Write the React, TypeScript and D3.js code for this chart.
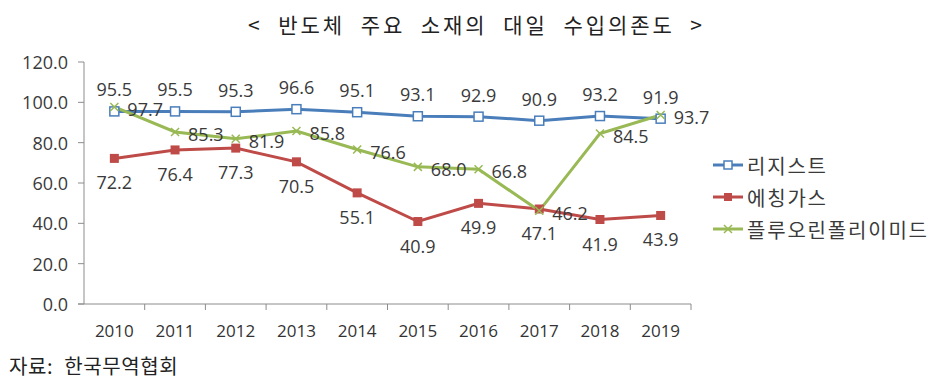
import React from "react";
import * as d3 from "d3";

const years = ["2010", "2011", "2012", "2013", "2014", "2015", "2016", "2017", "2018", "2019"];
const resist = [95.5, 95.5, 95.3, 96.6, 95.1, 93.1, 92.9, 90.9, 93.2, 91.9];
const etchingGas = [72.2, 76.4, 77.3, 70.5, 55.1, 40.9, 49.9, 47.1, 41.9, 43.9];
const polyimide = [97.7, 85.3, 81.9, 85.8, 76.6, 68.0, 66.8, 46.2, 84.5, 93.7];
const seriesNames = ["리지스트", "에칭가스", "플루오린폴리이미드"];
const yTicks = [0, 20, 40, 60, 80, 100, 120];
const title = "< 반도체 주요 소재의 대일 수입의존도 >";
const source = "자료: 한국무역협회";

const BLUE = "#4A7EBB";
const RED = "#BE4B48";
const GREEN = "#98B954";
const TXT = "#3a3a3a";
const AXIS = "#8c8c8c";
const NUM_FONT = "'Open Sans', 'Noto Sans', sans-serif";
const KR_FONT = "'Noto Sans CJK KR', sans-serif";

export default function App() {
  const W = 941, H = 383;
  const x = d3.scaleBand<string>().domain(years).range([84, 691]).padding(0);
  const y = d3.scaleLinear().domain([0, 120]).range([304, 62]);
  const cx = (yr: string) => (x(yr) as number) + x.bandwidth() / 2;
  const line = d3
    .line<number>()
    .x((_, i) => cx(years[i]))
    .y((v) => y(v));

  const sq = 9;
  const xMark = (px: number, py: number, k: string) => (
    <path
      key={k}
      d={`M${px - 4},${py - 4}L${px + 4},${py + 4}M${px - 4},${py + 4}L${px + 4},${py - 4}`}
      stroke={GREEN}
      strokeWidth={1.5}
    />
  );

  return (
    <svg width={W} height={H} style={{ position: "absolute", left: 0, top: 0, background: "#fff" }}>
      <rect width={W} height={H} fill="#fff" />
      <text
        x={248}
        y={24}
        textLength={454}
        lengthAdjust="spacing"
        dominantBaseline="central"
        fontFamily={KR_FONT}
        fontSize={21}
        style={{ wordSpacing: "8px", whiteSpace: "pre" }}
        fill="#222"
      >
        {title}
      </text>

      {/* y axis */}
      <line x1={84} x2={84} y1={y(120)} y2={y(0)} stroke={AXIS} strokeWidth={1} />
      {yTicks.map((t) => (
        <g key={t}>
          <line x1={78} x2={84} y1={y(t)} y2={y(t)} stroke={AXIS} />
          <text
            x={68}
            y={y(t)}
            textAnchor="end"
            dominantBaseline="central"
            fontFamily={NUM_FONT}
            fontSize={18}
            fill={TXT}
          >
            {t.toFixed(1)}
          </text>
        </g>
      ))}

      {/* x axis */}
      <line x1={78} x2={691} y1={y(0)} y2={y(0)} stroke={AXIS} />
      {years.map((yr) => (
        <line
          key={"t" + yr}
          x1={(x(yr) as number) + x.bandwidth()}
          x2={(x(yr) as number) + x.bandwidth()}
          y1={y(0)}
          y2={y(0) + 6}
          stroke={AXIS}
        />
      ))}
      {years.map((yr) => (
        <text
          key={"l" + yr}
          x={cx(yr)}
          y={330}
          textAnchor="middle"
          dominantBaseline="central"
          fontFamily={NUM_FONT}
          fontSize={17}
          fill="#333"
        >
          {yr}
        </text>
      ))}

      {/* lines */}
      <path d={line(resist) || ""} fill="none" stroke={BLUE} strokeWidth={3} />
      <path d={line(etchingGas) || ""} fill="none" stroke={RED} strokeWidth={3} />
      <path d={line(polyimide) || ""} fill="none" stroke={GREEN} strokeWidth={3} />

      {/* markers */}
      {resist.map((v, i) => (
        <rect
          key={"bm" + i}
          x={cx(years[i]) - sq / 2}
          y={y(v) - sq / 2}
          width={sq}
          height={sq}
          fill="#fff"
          stroke={BLUE}
          strokeWidth={1.5}
        />
      ))}
      {etchingGas.map((v, i) => (
        <rect
          key={"rm" + i}
          x={cx(years[i]) - sq / 2}
          y={y(v) - sq / 2}
          width={sq}
          height={sq}
          fill={RED}
        />
      ))}
      {polyimide.map((v, i) => xMark(cx(years[i]), y(v), "gm" + i))}

      {/* labels */}
      {resist.map((v, i) => (
        <text
          key={"bl" + i}
          x={cx(years[i])}
          y={y(v) - 22}
          textAnchor="middle"
          dominantBaseline="central"
          fontFamily={NUM_FONT}
          fontSize={18}
          fill={TXT}
        >
          {v.toFixed(1)}
        </text>
      ))}
      {etchingGas.map((v, i) => (
        <text
          key={"rl" + i}
          x={cx(years[i])}
          y={y(v) + 24}
          textAnchor="middle"
          dominantBaseline="central"
          fontFamily={NUM_FONT}
          fontSize={18}
          fill={TXT}
        >
          {v.toFixed(1)}
        </text>
      ))}
      {polyimide.map((v, i) => (
        <text
          key={"gl" + i}
          x={cx(years[i]) + 13}
          y={y(v) + 2}
          textAnchor="start"
          dominantBaseline="central"
          fontFamily={NUM_FONT}
          fontSize={18}
          fill={TXT}
        >
          {v.toFixed(1)}
        </text>
      ))}

      {/* legend */}
      {seriesNames.map((name, i) => {
        const ly = 165 + i * 32;
        const color = [BLUE, RED, GREEN][i];
        return (
          <g key={name}>
            <line x1={713} x2={743} y1={ly} y2={ly} stroke={color} strokeWidth={3} />
            {i === 0 && (
              <rect x={728 - 4} y={ly - 4} width={8} height={8} fill="#fff" stroke={BLUE} strokeWidth={1.5} />
            )}
            {i === 1 && <rect x={728 - 4} y={ly - 4} width={8} height={8} fill={RED} />}
            {i === 2 && xMark(728, ly, "lgx")}
            <text
              x={747}
              y={ly}
              dominantBaseline="central"
              fontFamily={KR_FONT}
              fontSize={20}
              letterSpacing={1.8}
              fill={TXT}
            >
              {name}
            </text>
          </g>
        );
      })}

      <text
        x={9}
        y={365}
        dominantBaseline="central"
        fontFamily={KR_FONT}
        fontSize={20}
        letterSpacing={0.6}
        style={{ wordSpacing: "6px", whiteSpace: "pre" }}
        fill="#222"
      >
        {source}
      </text>
    </svg>
  );
}
